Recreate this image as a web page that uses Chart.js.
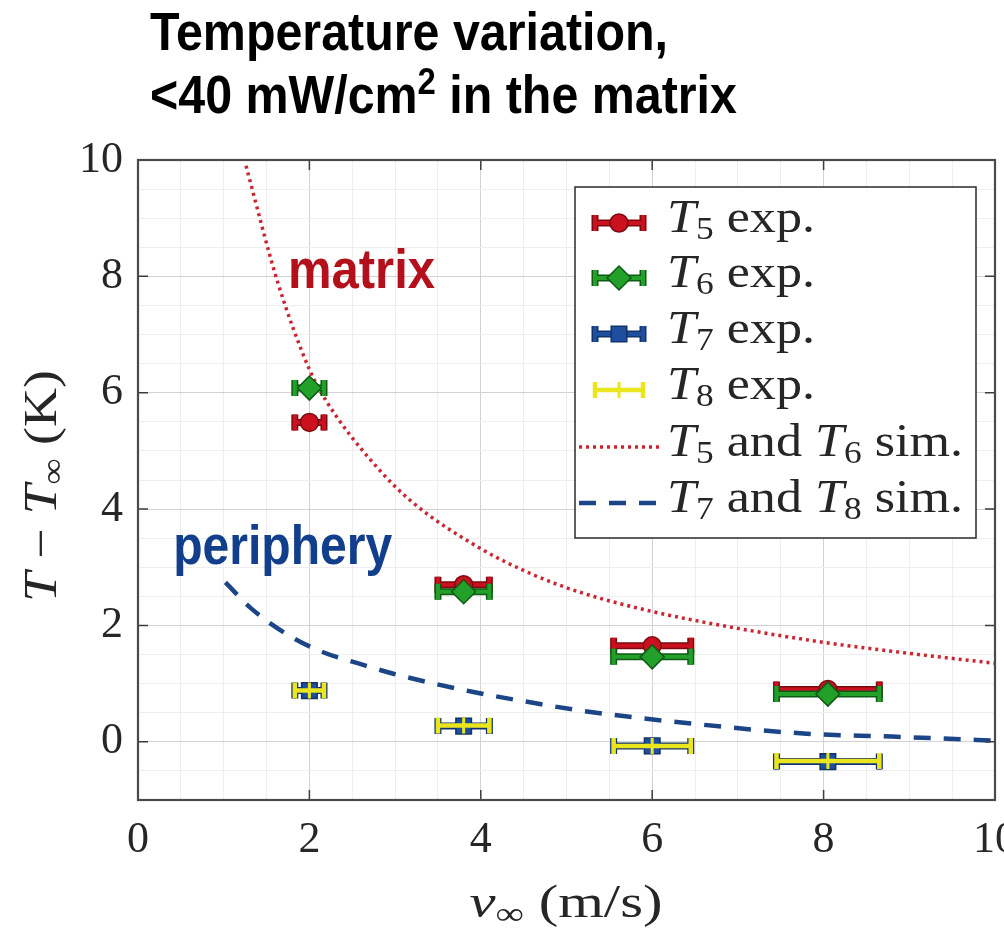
<!DOCTYPE html>
<html lang="en">
<head>
  <meta charset="UTF-8">
  <title>Temperature variation</title>
  <script src="https://cdn.jsdelivr.net/npm/chart.js"></script>
  <style>
    html, body {
      margin: 0;
      padding: 0;
      background: #fff;
      overflow: hidden;
    }
    #wrap {
      position: absolute;
      left: 0;
      top: 0;
      width: 1031px;
      height: 929px;
    }
  </style>
</head>
<body>
  <div id="wrap"><canvas id="chart"></canvas></div>

  <script>
    // measured points (x = free stream velocity, error = half width of the x bar)
    const velocity = [2.0, 3.8, 6.0, 8.05];
    const velocityErr = [0.17, 0.3, 0.45, 0.6];
    const t5Exp = [5.49, 2.70, 1.65, 0.90];
    const t6Exp = [6.08, 2.58, 1.46, 0.82];
    const t7Exp = [0.88, 0.27, -0.07, -0.34];
    const t8Exp = [0.88, 0.28, -0.07, -0.33];

    // simulation curves
    const simMatrixV = [1.26, 1.63, 2.0, 2.2, 2.74, 3.2, 4.0, 4.6, 5.16, 6.0, 7.0, 8.0, 9.0, 10.0];
    const simMatrixT = [9.9, 7.9, 6.4, 5.85, 4.8, 4.12, 3.32, 2.88, 2.57, 2.24, 1.95, 1.71, 1.52, 1.35];
    const simPeripheryV = [1.02, 1.33, 1.77, 2.16, 2.59, 2.98, 3.9, 4.69, 5.2, 6.48, 7.8, 8.8, 10.0];
    const simPeripheryT = [2.74, 2.28, 1.82, 1.54, 1.34, 1.17, 0.86, 0.65, 0.53, 0.31, 0.14, 0.09, 0.02];

    const xTicks = [0, 2, 4, 6, 8, 10];
    const yTicks = [0, 2, 4, 6, 8, 10];

    const serif = "'Liberation Serif', 'DejaVu Serif', serif";
    const sans = "'Liberation Sans', Arial, sans-serif";

    const pts = (xs, ys) => xs.map((v, i) => ({ x: v, y: ys[i] }));

    // --- rich text (italic / subscript / superscript) ---
    function measureParts(ctx, parts, size, family) {
      return parts.map(p => {
        const s = (p.sub || p.sup) ? size * 0.68 : size;
        const font = `${p.it ? 'italic ' : ''}${p.b ? 'bold ' : ''}${s}px ${family}`;
        ctx.font = font;
        return { t: p.t, font, w: ctx.measureText(p.t).width,
                 dy: p.sub ? size * 0.16 : (p.sup ? -size * 0.36 : 0) };
      });
    }

    function richWidth(ctx, parts, size, family) {
      return measureParts(ctx, parts, size, family).reduce((a, p) => a + p.w, 0);
    }

    function drawRich(ctx, parts, x, y, size, family, opts) {
      opts = opts || {};
      const items = measureParts(ctx, parts, size, family);
      const total = items.reduce((a, p) => a + p.w, 0);
      const sx = opts.width ? opts.width / total : (opts.sx || 1);
      ctx.save();
      ctx.translate(x, y);
      if (opts.rotate) ctx.rotate(opts.rotate);
      ctx.scale(sx, 1);
      let cx = opts.align === 'center' ? -total / 2 : 0;
      ctx.textAlign = 'left';
      ctx.textBaseline = 'alphabetic';
      ctx.fillStyle = opts.color || '#262626';
      items.forEach(p => {
        ctx.font = p.font;
        ctx.fillText(p.t, cx, p.dy);
        cx += p.w;
      });
      ctx.restore();
    }

    // --- markers and error bars ---
    function drawBar(ctx, x0, x1, py, fill, edge) {
      const cap = 8;
      const passes = edge ? [[edge, 7], [fill, 4]] : [[fill, 4.5]];
      passes.forEach(([col, lw]) => {
        ctx.strokeStyle = col;
        ctx.lineWidth = lw;
        ctx.beginPath();
        ctx.moveTo(x0, py); ctx.lineTo(x1, py);
        ctx.moveTo(x0, py - cap); ctx.lineTo(x0, py + cap);
        ctx.moveTo(x1, py - cap); ctx.lineTo(x1, py + cap);
        ctx.stroke();
      });
    }

    function drawMarker(ctx, ds, x, y) {
      ctx.save();
      ctx.fillStyle = ds.pointBackgroundColor;
      ctx.strokeStyle = ds.pointBorderColor;
      ctx.lineWidth = ds.pointBorderWidth;
      const r = ds.pointRadius;
      ctx.beginPath();
      if (ds.pointStyle === 'circle') {
        ctx.arc(x, y, r, 0, Math.PI * 2);
        ctx.fill(); ctx.stroke();
      } else if (ds.pointStyle === 'rectRot') {
        ctx.moveTo(x, y - r); ctx.lineTo(x + r, y); ctx.lineTo(x, y + r); ctx.lineTo(x - r, y);
        ctx.closePath(); ctx.fill(); ctx.stroke();
      } else if (ds.pointStyle === 'rect') {
        const s = r * Math.SQRT1_2;
        ctx.rect(x - s, y - s, 2 * s, 2 * s);
        ctx.fill(); ctx.stroke();
      } else {
        ctx.moveTo(x - r, y); ctx.lineTo(x + r, y);
        ctx.moveTo(x, y - r); ctx.lineTo(x, y + r);
        ctx.stroke();
      }
      ctx.restore();
    }

    const errorBars = {
      id: 'errorBars',
      beforeDatasetDraw(chart, args) {
        const ds = chart.data.datasets[args.index];
        if (!ds.errX) return;
        const { ctx, scales: { x, y } } = chart;
        ctx.save();
        ds.data.forEach((p, i) => {
          drawBar(ctx, x.getPixelForValue(p.x - ds.errX[i]), x.getPixelForValue(p.x + ds.errX[i]),
            y.getPixelForValue(p.y), ds.barColor, ds.barEdge);
        });
        ctx.restore();
      }
    };

    // box around the axes with inward ticks
    const frame = {
      id: 'frame',
      afterDatasetsDraw(chart) {
        const { ctx, chartArea: a, scales: { x, y } } = chart;
        ctx.save();
        ctx.strokeStyle = '#3c3c3c';
        ctx.lineWidth = 1.5;
        ctx.beginPath();
        xTicks.forEach(v => {
          const px = x.getPixelForValue(v);
          ctx.moveTo(px, a.bottom); ctx.lineTo(px, a.bottom - 10);
          ctx.moveTo(px, a.top); ctx.lineTo(px, a.top + 10);
        });
        yTicks.forEach(v => {
          const py = y.getPixelForValue(v);
          ctx.moveTo(a.left, py); ctx.lineTo(a.left + 10, py);
          ctx.moveTo(a.right, py); ctx.lineTo(a.right - 10, py);
        });
        ctx.stroke();
        ctx.lineWidth = 2.2;
        ctx.strokeStyle = '#4a4a4a';
        ctx.strokeRect(a.left, a.top, a.right - a.left, a.bottom - a.top);
        ctx.restore();
      }
    };

    const decorations = {
      id: 'decorations',
      afterDraw(chart) {
        const { ctx, scales: { x, y } } = chart;

        // title
        const line1 = [{ t: 'Temperature variation,', b: true }];
        const line2 = [{ t: '<40 mW/cm', b: true }, { t: '2', b: true, sup: true }, { t: ' in the matrix', b: true }];
        const sx = 518 / richWidth(ctx, line1, 53, sans);
        drawRich(ctx, line1, 150, 50, 53, sans, { sx, color: '#000' });
        drawRich(ctx, line2, 150, 113, 53, sans, { sx, color: '#000' });

        // region labels
        drawRich(ctx, [{ t: 'matrix', b: true }], x.getPixelForValue(1.75), y.getPixelForValue(7.8),
          55, sans, { width: 147, color: '#b3101c' });
        drawRich(ctx, [{ t: 'periphery', b: true }], x.getPixelForValue(0.41), y.getPixelForValue(3.05),
          55, sans, { width: 219, color: '#123f8c' });

        // axis titles
        drawRich(ctx, [{ t: 'v', it: true }, { t: '\u221E', sub: true }, { t: ' (m/s)' }],
          566, 917, 46, serif, { align: 'center', width: 193 });
        drawRich(ctx, [{ t: 'T', it: true }, { t: ' \u2212 ' }, { t: 'T', it: true }, { t: '\u221E', sub: true }, { t: ' (K)' }],
          56, 486, 46, serif, { align: 'center', width: 232, rotate: -Math.PI / 2 });

        // legend
        const bx = 575, by = 187, bw = 401, bh = 351;
        ctx.save();
        ctx.fillStyle = '#fff';
        ctx.fillRect(bx, by, bw, bh);
        ctx.strokeStyle = '#2b2b2b';
        ctx.lineWidth = 1.5;
        ctx.strokeRect(bx, by, bw, bh);
        ctx.restore();

        const order = [3, 2, 1, 0, 4, 5];
        const rowY = [223, 278, 334, 390, 447, 503];
        const ds = chart.data.datasets;
        const lsx = 296 / richWidth(ctx, ds[4].legendParts, 46, serif);
        order.forEach((di, r) => {
          const d = ds[di];
          const cy = rowY[r];
          ctx.save();
          if (d.errX) {
            drawBar(ctx, 595, 643, cy, d.barColor, d.barEdge);
            drawMarker(ctx, d, 619, cy);
          } else {
            ctx.strokeStyle = d.borderColor;
            ctx.lineWidth = d.borderWidth;
            ctx.setLineDash(d.borderDash);
            ctx.beginPath();
            ctx.moveTo(579, cy); ctx.lineTo(662, cy);
            ctx.stroke();
          }
          ctx.restore();
          drawRich(ctx, d.legendParts, 667, cy + 9, 46, serif, { sx: lsx });
        });
      }
    };

    const isMajor = v => Math.abs(v % 2) < 1e-9;

    const ctx = document.getElementById('chart').getContext('2d');
    new Chart(ctx, {
      type: 'scatter',
      data: {
        datasets: [
          {
            label: 'T8 exp.',
            data: pts(velocity, t8Exp),
            errX: velocityErr,
            barColor: '#ebe51e', barEdge: null,
            pointStyle: 'cross', pointRadius: 8, pointBorderWidth: 3,
            pointBackgroundColor: '#ebe51e', pointBorderColor: '#ebe51e',
            legendParts: [{ t: 'T', it: true }, { t: '8', sub: true }, { t: ' exp.' }]
          },
          {
            label: 'T7 exp.',
            data: pts(velocity, t7Exp),
            errX: velocityErr,
            barColor: '#1d4f9e', barEdge: '#12336a',
            pointStyle: 'rect', pointRadius: 11, pointBorderWidth: 1.5,
            pointBackgroundColor: '#1d4f9e', pointBorderColor: '#12336a',
            legendParts: [{ t: 'T', it: true }, { t: '7', sub: true }, { t: ' exp.' }]
          },
          {
            label: 'T6 exp.',
            data: pts(velocity, t6Exp),
            errX: velocityErr,
            barColor: '#22a02a', barEdge: '#0f5a14',
            pointStyle: 'rectRot', pointRadius: 12, pointBorderWidth: 1.5,
            pointBackgroundColor: '#22a02a', pointBorderColor: '#0f5a14',
            legendParts: [{ t: 'T', it: true }, { t: '6', sub: true }, { t: ' exp.' }]
          },
          {
            label: 'T5 exp.',
            data: pts(velocity, t5Exp),
            errX: velocityErr,
            barColor: '#cc1020', barEdge: '#7a0a0e',
            pointStyle: 'circle', pointRadius: 9, pointBorderWidth: 1.5,
            pointBackgroundColor: '#cc1020', pointBorderColor: '#7a0a0e',
            legendParts: [{ t: 'T', it: true }, { t: '5', sub: true }, { t: ' exp.' }]
          },
          {
            label: 'T5 and T6 sim.',
            data: pts(simMatrixV, simMatrixT),
            showLine: true,
            pointRadius: 0,
            borderColor: '#cc2532',
            borderWidth: 3.5,
            borderDash: [3, 4],
            cubicInterpolationMode: 'monotone',
            legendParts: [{ t: 'T', it: true }, { t: '5', sub: true }, { t: ' and ' }, { t: 'T', it: true }, { t: '6', sub: true }, { t: ' sim.' }]
          },
          {
            label: 'T7 and T8 sim.',
            data: pts(simPeripheryV, simPeripheryT),
            showLine: true,
            pointRadius: 0,
            borderColor: '#1c4587',
            borderWidth: 4.5,
            borderDash: [17, 13],
            cubicInterpolationMode: 'monotone',
            legendParts: [{ t: 'T', it: true }, { t: '7', sub: true }, { t: ' and ' }, { t: 'T', it: true }, { t: '8', sub: true }, { t: ' sim.' }]
          }
        ]
      },
      options: {
        responsive: true,
        maintainAspectRatio: false,
        animation: false,
        layout: { padding: { top: 160, right: 30, left: 0, bottom: 0 } },
        plugins: {
          legend: { display: false },
          tooltip: { enabled: false }
        },
        scales: {
          x: {
            type: 'linear',
            min: 0,
            max: 10,
            ticks: {
              stepSize: 0.5,
              autoSkip: false,
              maxRotation: 0,
              padding: 14,
              color: '#262626',
              font: { family: serif, size: 44 },
              callback: v => (xTicks.includes(v) ? String(v) : '')
            },
            grid: {
              drawTicks: false,
              lineWidth: 1,
              color: c => (isMajor(c.tick.value) ? '#d2d2d2' : '#eeeeee')
            },
            border: { display: false },
            afterFit: s => { s.height = 129; }
          },
          y: {
            type: 'linear',
            min: -1,
            max: 10,
            ticks: {
              stepSize: 0.5,
              autoSkip: false,
              padding: 15,
              color: '#262626',
              font: { family: serif, size: 44 },
              callback: v => (yTicks.includes(v) ? String(v) : '')
            },
            grid: {
              drawTicks: false,
              lineWidth: 1,
              color: c => (isMajor(c.tick.value) ? '#d2d2d2' : '#eeeeee')
            },
            border: { display: false },
            afterFit: s => { s.width = 138; }
          }
        }
      },
      plugins: [errorBars, frame, decorations]
    });
  </script>
</body>
</html>
